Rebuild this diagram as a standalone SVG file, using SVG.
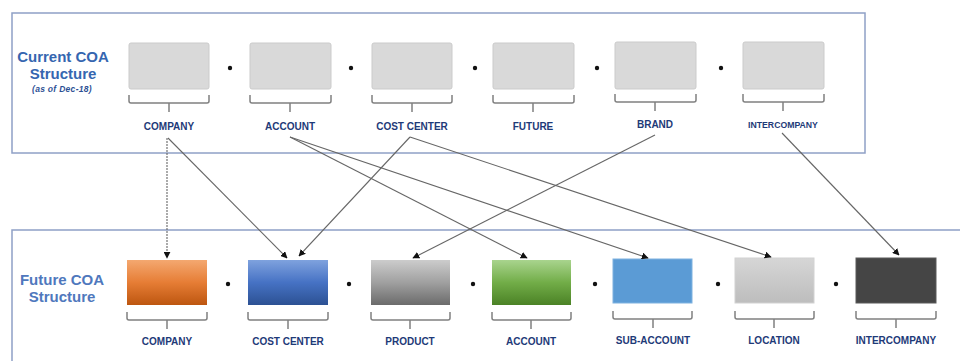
<svg xmlns="http://www.w3.org/2000/svg" width="960" height="361" viewBox="0 0 960 361">
<style>
.panel{fill:#fff;stroke:#8fa0c6;stroke-width:1.5}
.title{font-family:"Liberation Sans",Arial,sans-serif;font-weight:bold;font-size:15px;text-anchor:middle}
.sub{font-family:"Liberation Sans",Arial,sans-serif;font-weight:bold;font-style:italic;font-size:8.5px;letter-spacing:0.3px;text-anchor:middle;fill:#2c4f94}
.lbl{font-family:"Liberation Sans",Arial,sans-serif;font-weight:bold;font-size:10px;text-anchor:middle;fill:#1e3a78}
.small{font-size:8.7px}
.tbox{fill:#d9d9d9;stroke:#cbcbcb;stroke-width:1}
.brace{fill:none;stroke:#808080;stroke-width:1.5}
.dot{fill:#111}
.conn{fill:none;stroke:#666;stroke-width:1.1;marker-end:url(#ah)}
</style>
<defs>
<marker id="ah" viewBox="0 0 10 10" refX="9" refY="5" markerWidth="7" markerHeight="7" markerUnits="userSpaceOnUse" orient="auto">
<path d="M0,0 L10,5 L0,10 z" fill="#111"/>
</marker>
<linearGradient id="gOr" x1="0" y1="0" x2="0" y2="1"><stop offset="0" stop-color="#f4a870"/><stop offset="0.5" stop-color="#e67d35"/><stop offset="1" stop-color="#bd5610"/></linearGradient>
<linearGradient id="gBl" x1="0" y1="0" x2="0" y2="1"><stop offset="0" stop-color="#7fa2de"/><stop offset="0.5" stop-color="#4672c4"/><stop offset="1" stop-color="#2c5193"/></linearGradient>
<linearGradient id="gGr" x1="0" y1="0" x2="0" y2="1"><stop offset="0" stop-color="#cccccc"/><stop offset="0.5" stop-color="#a0a0a0"/><stop offset="1" stop-color="#6b6b6b"/></linearGradient>
<linearGradient id="gGn" x1="0" y1="0" x2="0" y2="1"><stop offset="0" stop-color="#a9d48e"/><stop offset="0.5" stop-color="#72ad48"/><stop offset="1" stop-color="#4b8226"/></linearGradient>
<linearGradient id="gLg" x1="0" y1="0" x2="0" y2="1"><stop offset="0" stop-color="#d6d6d6"/><stop offset="1" stop-color="#bdbdbd"/></linearGradient>
</defs>
<rect width="960" height="361" fill="#fff"/>

<g id="current-panel">
<rect class="panel" x="12" y="13" width="853" height="140"/>
<text class="title" x="63" y="62" fill="#3566b0">Current COA</text>
<text class="title" x="63" y="79" fill="#3566b0">Structure</text>
<text class="sub" x="62" y="92">(as of Dec-18)</text>
</g>

<g id="future-panel">
<rect class="panel" x="12" y="230" width="960" height="140"/>
<text class="title" x="62" y="285" fill="#4f78bd">Future COA</text>
<text class="title" x="62" y="302" fill="#4f78bd">Structure</text>
</g>

<g id="cur-company">
<rect class="tbox" x="129" y="43" width="80" height="46" rx="2"/>
<path class="brace" d="M129,95 v6 q0,2 2,2 h76 q2,0 2,-2 v-6 M169,103 v9"/>
<text class="lbl" x="169" y="130">COMPANY</text>
</g>
<g id="cur-account">
<rect class="tbox" x="250" y="43" width="81" height="46" rx="2"/>
<path class="brace" d="M250,95 v6 q0,2 2,2 h77 q2,0 2,-2 v-6 M290,103 v9"/>
<text class="lbl" x="290" y="130">ACCOUNT</text>
</g>
<g id="cur-costcenter">
<rect class="tbox" x="372" y="43" width="80" height="46" rx="2"/>
<path class="brace" d="M372,95 v6 q0,2 2,2 h76 q2,0 2,-2 v-6 M412,103 v9"/>
<text class="lbl" x="412" y="130">COST CENTER</text>
</g>
<g id="cur-future">
<rect class="tbox" x="493" y="43" width="81" height="46" rx="2"/>
<path class="brace" d="M493,95 v6 q0,2 2,2 h77 q2,0 2,-2 v-6 M533,103 v9"/>
<text class="lbl" x="533" y="130">FUTURE</text>
</g>
<g id="cur-brand">
<rect class="tbox" x="615" y="42" width="81" height="47" rx="2"/>
<path class="brace" d="M615,94 v6 q0,2 2,2 h77 q2,0 2,-2 v-6 M655,102 v9"/>
<text class="lbl" x="655" y="128">BRAND</text>
</g>
<g id="cur-intercompany">
<rect class="tbox" x="743" y="42" width="81" height="47" rx="2"/>
<path class="brace" d="M743,94 v6 q0,2 2,2 h77 q2,0 2,-2 v-6 M783,102 v9"/>
<text class="lbl small" x="783" y="128">INTERCOMPANY</text>
</g>
<g id="cur-dots">
<circle class="dot" cx="230" cy="68" r="2.2"/>
<circle class="dot" cx="351" cy="68" r="2.2"/>
<circle class="dot" cx="475" cy="68" r="2.2"/>
<circle class="dot" cx="597" cy="68" r="2.2"/>
<circle class="dot" cx="721" cy="68" r="2.2"/>
</g>

<g id="fut-company">
<rect x="127" y="260" width="80" height="45" fill="url(#gOr)"/>
<path class="brace" d="M127,312 v6 q0,2 2,2 h76 q2,0 2,-2 v-6 M167,320 v9"/>
<text class="lbl" x="167" y="345">COMPANY</text>
</g>
<g id="fut-costcenter">
<rect x="248" y="260" width="80" height="45" fill="url(#gBl)"/>
<path class="brace" d="M248,312 v6 q0,2 2,2 h76 q2,0 2,-2 v-6 M288,320 v9"/>
<text class="lbl" x="288" y="345">COST CENTER</text>
</g>
<g id="fut-product">
<rect x="371" y="260" width="79" height="45" fill="url(#gGr)"/>
<path class="brace" d="M371,312 v6 q0,2 2,2 h75 q2,0 2,-2 v-6 M410,320 v9"/>
<text class="lbl" x="410" y="345">PRODUCT</text>
</g>
<g id="fut-account">
<rect x="492" y="260" width="79" height="45" fill="url(#gGn)"/>
<path class="brace" d="M492,312 v6 q0,2 2,2 h75 q2,0 2,-2 v-6 M531,320 v9"/>
<text class="lbl" x="531" y="345">ACCOUNT</text>
</g>
<g id="fut-subaccount">
<rect x="613" y="259" width="79" height="44" fill="#5b9bd5" stroke="#7fb2e0" stroke-width="1"/>
<path class="brace" d="M613,311 v6 q0,2 2,2 h75 q2,0 2,-2 v-6 M653,319 v9"/>
<text class="lbl" x="653" y="344">SUB-ACCOUNT</text>
</g>
<g id="fut-location">
<rect x="735" y="258" width="79" height="45" fill="url(#gLg)" stroke="#d2d2d2" stroke-width="1"/>
<path class="brace" d="M735,311 v6 q0,2 2,2 h75 q2,0 2,-2 v-6 M774,319 v9"/>
<text class="lbl" x="774" y="344">LOCATION</text>
</g>
<g id="fut-intercompany">
<rect x="856" y="258" width="80" height="45" fill="#454545" stroke="#5a5a5a" stroke-width="1"/>
<path class="brace" d="M856,311 v6 q0,2 2,2 h76 q2,0 2,-2 v-6 M896,319 v9"/>
<text class="lbl" x="896" y="344">INTERCOMPANY</text>
</g>
<g id="fut-dots">
<circle class="dot" cx="228" cy="284" r="2.2"/>
<circle class="dot" cx="349" cy="284" r="2.2"/>
<circle class="dot" cx="473" cy="284" r="2.2"/>
<circle class="dot" cx="595" cy="284" r="2.2"/>
<circle class="dot" cx="718" cy="284" r="2.2"/>
<circle class="dot" cx="836" cy="284" r="2.2"/>
</g>

<g id="connectors">
<path class="conn" d="M167,138 L167,258" stroke-dasharray="2 1"/>
<path class="conn" d="M168,138 L287,258"/>
<path class="conn" d="M290,137 L527,258"/>
<path class="conn" d="M290,137 L648,258"/>
<path class="conn" d="M410,137 L299,256"/>
<path class="conn" d="M410,137 L771,257"/>
<path class="conn" d="M655,135 L413,258"/>
<path class="conn" d="M782,133 L899,255"/>
</g>
</svg>
